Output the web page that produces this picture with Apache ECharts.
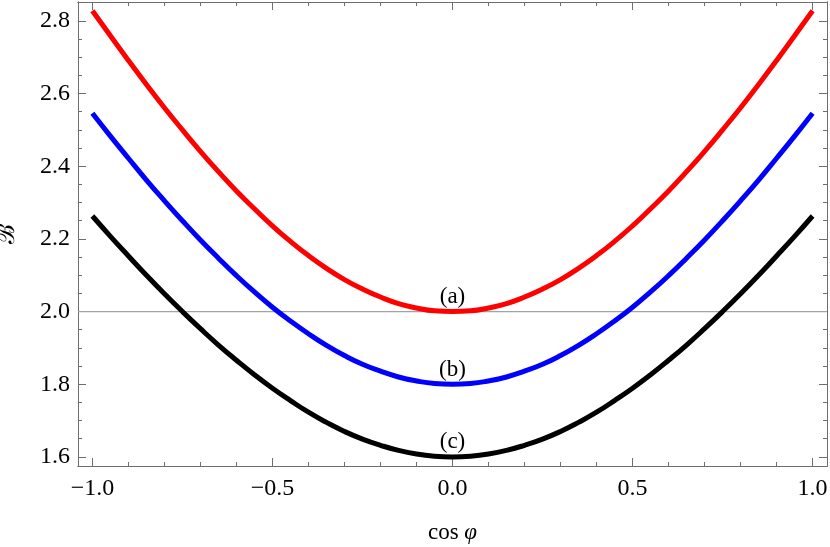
<!DOCTYPE html>
<html>
<head>
<meta charset="utf-8">
<script src="https://cdn.jsdelivr.net/npm/echarts@6/dist/echarts.min.js"></script>
<style>
html,body{margin:0;padding:0;background:#fff;}
#chart{width:830px;height:547px;}
</style>
</head>
<body>
<div id="chart"></div>
<script>
// x values (cos φ)
const xValues = [-1.0,-0.95,-0.9,-0.85,-0.8,-0.75,-0.7,-0.65,-0.6,-0.55,-0.5,-0.45,-0.4,-0.35,-0.3,-0.25,-0.2,-0.15,-0.1,-0.05,
  0.0,0.05,0.1,0.15,0.2,0.25,0.3,0.35,0.4,0.45,0.5,0.55,0.6,0.65,0.7,0.75,0.8,0.85,0.9,0.95,1.0];
// curve (a) red
const seriesA = [2.828,2.759,2.691,2.625,2.561,2.500,2.441,2.385,2.332,2.283,2.236,2.193,2.154,2.119,2.088,2.062,2.040,2.022,2.010,2.002,
  2.000,2.002,2.010,2.022,2.040,2.062,2.088,2.119,2.154,2.193,2.236,2.283,2.332,2.385,2.441,2.500,2.561,2.625,2.691,2.759,2.828];
// curve (b) blue
const seriesB = [2.546,2.483,2.422,2.362,2.305,2.250,2.197,2.147,2.099,2.054,2.012,1.974,1.939,1.907,1.879,1.855,1.836,1.820,1.809,1.802,
  1.800,1.802,1.809,1.820,1.836,1.855,1.879,1.907,1.939,1.974,2.012,2.054,2.099,2.147,2.197,2.250,2.305,2.362,2.422,2.483,2.546];
// curve (c) black
const seriesC = [2.263,2.207,2.153,2.100,2.049,2.000,1.953,1.908,1.866,1.826,1.789,1.755,1.723,1.695,1.670,1.649,1.632,1.618,1.608,1.602,
  1.600,1.602,1.608,1.618,1.632,1.649,1.670,1.695,1.723,1.755,1.789,1.826,1.866,1.908,1.953,2.000,2.049,2.100,2.153,2.207,2.263];
// reference line
const refLevel = 2.0;
// curve labels
const labelX = [0, 0, 0];
const labelY = [2.0, 1.8, 1.6];
const labelText = ['(a)', '(b)', '(c)'];
// ticks
const xMajorTicks = [-1.0, -0.5, 0.0, 0.5, 1.0];
const xMinorTicks = [-1.0,-0.9,-0.8,-0.7,-0.6,-0.5,-0.4,-0.3,-0.2,-0.1,0.0,0.1,0.2,0.3,0.4,0.5,0.6,0.7,0.8,0.9,1.0];
const yMajorTicks = [1.6, 1.8, 2.0, 2.2, 2.4, 2.6, 2.8];
const yMinorTicks = [1.6,1.65,1.7,1.75,1.8,1.85,1.9,1.95,2.0,2.05,2.1,2.15,2.2,2.25,2.3,2.35,2.4,2.45,2.5,2.55,2.6,2.65,2.7,2.75,2.8];
const xMin = -1.04, xMax = 1.04, yMin = 1.575, yMax = 2.852;

const FONT = "'Liberation Serif','Times New Roman',serif";
const axisColor = '#6e6e6e';

function fmt(v) {
  const s = Number(v).toFixed(1);
  return s.replace('-', '\u2212');
}

function xAxisDef(pos, ticks, len, withLabel) {
  return {
    type: 'value', min: xMin, max: xMax, position: pos,
    axisLine: { show: true, onZero: false, lineStyle: { color: axisColor, width: 1 } },
    axisTick: { show: true, inside: true, length: len, customValues: ticks, lineStyle: { color: axisColor, width: 1 } },
    axisLabel: withLabel ? { show: true, customValues: xMajorTicks, formatter: fmt, color: '#000', fontFamily: FONT, fontSize: 24, margin: 11 } : { show: false },
    splitLine: { show: false }
  };
}
function yAxisDef(pos, ticks, len, withLabel) {
  return {
    type: 'value', min: yMin, max: yMax, position: pos,
    axisLine: { show: true, onZero: false, lineStyle: { color: axisColor, width: 1 } },
    axisTick: { show: true, inside: true, length: len, customValues: ticks, lineStyle: { color: axisColor, width: 1 } },
    axisLabel: withLabel ? { show: true, customValues: yMajorTicks, formatter: fmt, color: '#000', fontFamily: FONT, fontSize: 24, margin: 8 } : { show: false },
    splitLine: { show: false }
  };
}

const xAxes = [
  xAxisDef('bottom', xMajorTicks, 8, true),
  xAxisDef('bottom', xMinorTicks, 4, false),
  xAxisDef('top', xMajorTicks, 8, false),
  xAxisDef('top', xMinorTicks, 4, false)
];
xAxes[0].name = 'cos {i|φ}';
xAxes[0].nameLocation = 'middle';
xAxes[0].nameGap = 55;
xAxes[0].nameTextStyle = { fontFamily: FONT, fontSize: 23, color: '#000',
  rich: { i: { fontFamily: FONT, fontStyle: 'italic', fontSize: 23, color: '#000' } } };

const yAxes = [
  yAxisDef('left', yMajorTicks, 8, true),
  yAxisDef('left', yMinorTicks, 4, false),
  yAxisDef('right', yMajorTicks, 8, false),
  yAxisDef('right', yMinorTicks, 4, false)
];
yAxes[0].name = '\u212C';
yAxes[0].nameLocation = 'middle';
yAxes[0].nameRotate = 90;
yAxes[0].nameGap = 58;
yAxes[0].nameTextStyle = { fontFamily: "'DejaVu Serif','Liberation Serif',serif", fontSize: 24, color: '#000' };

function pairs(ys) { return xValues.map((x, i) => [x, ys[i]]); }

const chart = echarts.init(document.getElementById('chart'), null, { renderer: 'canvas' });
chart.setOption({
  animation: false,
  backgroundColor: '#fff',
  grid: { left: 78, right: 3, top: 2, bottom: 81, containLabel: false, outerBoundsMode: 'none' },
  xAxis: xAxes,
  yAxis: yAxes,
  series: [
    { type: 'line', xAxisIndex: 0, yAxisIndex: 0, data: [[xMin, refLevel], [xMax, refLevel]], symbol: 'none',
      lineStyle: { color: '#a3a3a3', width: 1.2 }, silent: true, z: 1 },
    { type: 'line', name: '(a)', data: pairs(seriesA), smooth: true, symbol: 'none', lineStyle: { color: '#ff0000', width: 5 }, z: 3 },
    { type: 'line', name: '(b)', data: pairs(seriesB), smooth: true, symbol: 'none', lineStyle: { color: '#0000ff', width: 5 }, z: 3 },
    { type: 'line', name: '(c)', data: pairs(seriesC), smooth: true, symbol: 'none', lineStyle: { color: '#000000', width: 5 }, z: 3 },
    { type: 'scatter', symbolSize: 0, silent: true, z: 4,
      data: labelX.map((x, i) => ({ value: [x, labelY[i]], name: labelText[i] })),
      label: { show: true, position: 'top', distance: 3, formatter: p => p.name, fontFamily: FONT, fontSize: 23, color: '#000', opacity: 1 } }
  ]
});
</script>
</body>
</html>
